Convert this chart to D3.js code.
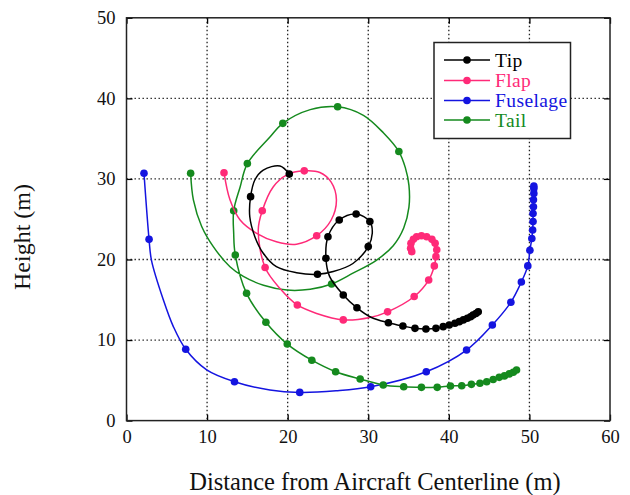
<!DOCTYPE html>
<html>
<head>
<meta charset="utf-8">
<script src="https://cdn.jsdelivr.net/npm/d3@7"></script>
<style>
  html, body { margin: 0; padding: 0; background: #fff; }
  svg { display: block; }
  text { font-family: "Liberation Serif", "Times New Roman", serif; }
</style>
</head>
<body>
<svg id="chart" width="630" height="495"></svg>
<script>
// ---- Data (x = distance from centerline in m, y = height in m, third value = 1 if a marker is drawn) ----
const seriesNames = ["Tip", "Flap", "Fuselage", "Tail"];
const seriesColors = ["#000000", "#ff2a78", "#1414e0", "#158a1e"];

const tip = [
  [20.2,30.6,1],[19.05,31.6,0],[16.97,31.1,0],[15.94,29.9,0],[15.4,27.8,1],[15.3,25.3,0],
  [15.94,22.8,0],[16.97,20.77,0],[18.6,19.1,0],[21.1,18.36,0],[23.7,18.16,1],[25.66,18.5,0],
  [28.1,19.5,0],[30.0,21.6,1],[30.5,23.25,0],[30.2,24.7,1],[28.5,25.65,1],[26.4,24.9,1],
  [25.0,22.83,1],[24.75,20.15,1],[25.2,17.9,0],[26.9,15.6,1],[28.6,14.0,1],[30.4,12.8,0],
  [32.5,12.15,1],[34.3,11.74,1],[35.8,11.45,1],[37.16,11.37,1],[38.4,11.45,1],[39.3,11.66,1],
  [40.05,11.87,1],[40.76,12.08,1],[41.3,12.28,1],[41.8,12.5,1],[42.3,12.7,1],[42.7,12.9,1],
  [43.0,13.1,1],[43.36,13.3,1],[43.65,13.5,1]
];

const flap = [
  [12.1,30.77,1],[12.84,27.4,0],[14.1,24.9,0],[16.15,23.25,0],[18.6,22.2,0],[21.1,21.9,0],
  [23.6,22.95,1],[25.4,24.9,0],[26.05,27.4,0],[25.4,29.6,0],[24.0,30.8,0],[22.06,31.0,1],[19.9,30.5,0],
  [18.2,29.0,0],[16.85,26.05,1],[16.35,23.66,0],[17.2,19.0,1],[19.05,16.4,0],[21.2,14.35,1],
  [23.6,13.3,0],[26.9,12.5,1],[30.2,12.8,0],[32.4,13.5,1],[35.7,15.4,1],[37.5,17.45,1],
  [38.2,19.2,1],[38.4,20.35,1],[38.5,21.2,1],[38.3,22.0,1],[37.9,22.5,1],[37.25,22.83,1],
  [36.6,22.95,1],[36.0,22.83,1],[35.6,22.5,1],[35.3,22.0,1],[35.26,21.4,1],[35.4,20.97,1]
];

const fuselage = [
  [2.17,30.7,1],[2.8,22.5,1],[3.1,19.9,0],[4.57,15.0,0],[5.8,11.7,0],[7.35,8.85,1],
  [9.95,6.3,0],[13.4,4.83,1],[17.8,3.8,0],[21.5,3.5,1],[26.0,3.7,0],[30.3,4.2,1],
  [37.2,6.07,1],[42.2,8.76,1],[45.4,11.87,1],[47.7,14.7,1],[49.0,17.2,1],[49.8,19.2,1],
  [50.06,21.15,1],[50.3,22.6,1],[50.4,23.66,1],[50.45,24.7,1],[50.45,25.7,1],[50.5,26.55,1],
  [50.5,27.4,1],[50.55,28.2,1],[50.55,28.8,1],[50.55,29.1,1]
];

const tail = [
  [7.96,30.7,1],[8.3,27.4,0],[9.33,24.1,0],[10.77,21.6,0],[12.84,19.1,0],[14.5,17.9,0],
  [17.0,16.8,0],[19.9,16.2,0],[22.8,16.3,0],[25.45,16.96,1],[28.1,18.3,0],[31.0,19.9,0],
  [33.1,21.7,0],[34.4,23.9,0],[35.05,26.5,0],[35.05,29.2,0],[34.6,31.4,0],[33.8,33.4,1],[31.9,35.7,0],
  [29.4,37.9,0],[26.2,38.96,1],[22.8,38.6,0],[19.4,36.9,1],[17.8,35.2,0],[15.0,31.9,1],
  [14.1,29.0,0],[13.3,26.05,1],[13.3,23.3,0],[13.5,20.55,1],[14.9,15.8,1],[17.3,12.2,1],
  [19.95,9.5,1],[23.0,7.5,1],[25.95,6.07,1],[29.0,5.16,1],[31.86,4.42,1],[34.4,4.2,1],
  [36.6,4.13,1],[38.56,4.13,1],[40.2,4.3,1],[41.6,4.33,1],[42.8,4.5,1],[43.86,4.63,1],
  [44.7,4.83,1],[45.5,5.1,1],[46.25,5.37,1],[46.9,5.55,1],[47.5,5.8,1],[48.0,6.0,1],[48.4,6.28,1]
];

const xTicks = [0, 10, 20, 30, 40, 50, 60];
const yTicks = [0, 10, 20, 30, 40, 50];
const xTitle = "Distance from Aircraft Centerline (m)";
const yTitle = "Height (m)";

// ---- Layout ----
const L = 126.5, R = 610, T = 17.8, B = 420.6;
const svg = d3.select("#chart");
const x = d3.scaleLinear().domain([0, 60]).range([L, R]);
const y = d3.scaleLinear().domain([0, 50]).range([B, T]);

// Grid (dotted)
const grid = svg.append("g");
grid.selectAll("line.gx").data(xTicks.slice(1, -1)).join("line")
  .attr("x1", d => x(d)).attr("x2", d => x(d)).attr("y1", T).attr("y2", B)
  .attr("stroke", "#222").attr("stroke-width", 1.3).attr("stroke-dasharray", "1.4,2.6");
grid.selectAll("line.gy").data(yTicks.slice(1, -1)).join("line")
  .attr("y1", d => y(d)).attr("y2", d => y(d)).attr("x1", L).attr("x2", R)
  .attr("stroke", "#222").attr("stroke-width", 1.3).attr("stroke-dasharray", "1.4,2.6");

// Axes
function styleAxis(g) {
  g.select(".domain").remove();
  g.attr("font-family", null);
  g.selectAll(".tick line").attr("stroke", "#000").attr("stroke-width", 1.3);
  g.selectAll(".tick text").attr("font-family", "Liberation Serif, Times New Roman, serif")
    .attr("font-size", 18.5).attr("fill", "#111");
}
svg.append("g").attr("transform", `translate(0,${B})`)
  .call(d3.axisBottom(x).tickValues(xTicks).tickSizeInner(-6).tickSizeOuter(0).tickPadding(9))
  .call(styleAxis);
svg.append("g").attr("transform", `translate(0,${T})`)
  .call(d3.axisTop(x).tickValues(xTicks).tickSizeInner(-6).tickSizeOuter(0).tickFormat(""))
  .call(styleAxis);
svg.append("g").attr("transform", `translate(${L},0)`)
  .call(d3.axisLeft(y).tickValues(yTicks).tickSizeInner(-6).tickSizeOuter(0).tickPadding(11))
  .call(styleAxis);
svg.append("g").attr("transform", `translate(${R},0)`)
  .call(d3.axisRight(y).tickValues(yTicks).tickSizeInner(-6).tickSizeOuter(0).tickFormat(""))
  .call(styleAxis);

// Frame
svg.append("rect").attr("x", L).attr("y", T).attr("width", R - L).attr("height", B - T)
  .attr("fill", "none").attr("stroke", "#222").attr("stroke-width", 1.5);

// Series
const allSeries = [tip, flap, fuselage, tail];
const line = d3.line().x(d => x(d[0])).y(d => y(d[1])).curve(d3.curveCatmullRom.alpha(0.5));
const plot = svg.append("g");
[2, 3, 1, 0].forEach(i => {
  const data = allSeries[i], c = seriesColors[i];
  const g = plot.append("g");
  g.append("path").attr("d", line(data)).attr("fill", "none")
    .attr("stroke", c).attr("stroke-width", 1.5);
  g.selectAll("circle").data(data.filter(d => d[2] === 1)).join("circle")
    .attr("cx", d => x(d[0])).attr("cy", d => y(d[1])).attr("r", 3.8).attr("fill", c);
});

// Titles
svg.append("text").attr("x", 375).attr("y", 490).attr("text-anchor", "middle")
  .attr("font-size", 24.5).attr("fill", "#111").text(xTitle);
svg.append("text").attr("transform", "translate(30,237) rotate(-90)").attr("text-anchor", "middle")
  .attr("font-size", 24).attr("fill", "#111").text(yTitle);

// Legend
const lg = svg.append("g");
lg.append("rect").attr("x", 434).attr("y", 42.5).attr("width", 136.5).attr("height", 96)
  .attr("fill", "#fff").attr("stroke", "#222").attr("stroke-width", 1.5);
const ly = [60, 80.5, 100.5, 120];
seriesNames.forEach((n, i) => {
  const c = seriesColors[i];
  lg.append("line").attr("x1", 444).attr("x2", 490).attr("y1", ly[i]).attr("y2", ly[i])
    .attr("stroke", c).attr("stroke-width", 1.5);
  lg.append("circle").attr("cx", 467).attr("cy", ly[i]).attr("r", 3.8).attr("fill", c);
  lg.append("text").attr("x", 495).attr("y", ly[i] + 6.5).attr("font-size", 19.5)
    .attr("letter-spacing", 0.4).attr("fill", c).text(n);
});
</script>
</body>
</html>
